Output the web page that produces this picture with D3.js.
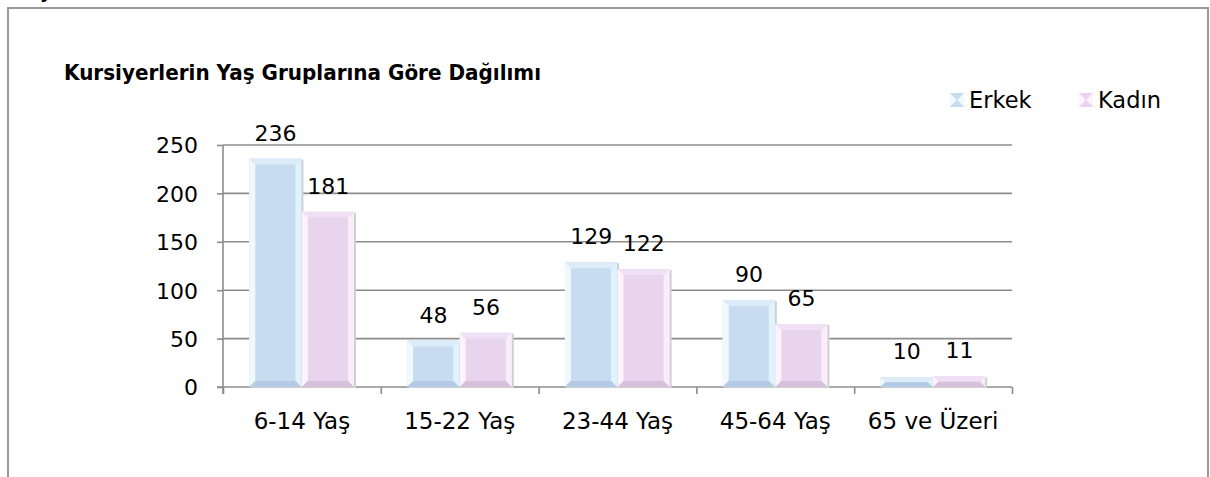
<!DOCTYPE html>
<html>
<head>
<meta charset="utf-8">
<script src="https://cdn.jsdelivr.net/npm/d3@7"></script>
<style>
  body { margin: 0; background: #fff; }
  svg { display: block; }
  text { font-family: "DejaVu Sans", Verdana, sans-serif; fill: #000; }
</style>
</head>
<body>
<div id="chart"></div>
<script>
// chart data
var categories = ["6-14 Yaş", "15-22 Yaş", "23-44 Yaş", "45-64 Yaş", "65 ve Üzeri"];
var erkek = [236, 48, 129, 90, 10];
var kadin = [181, 56, 122, 65, 11];
var seriesNames = ["Erkek", "Kadın"];
var yTicks = [0, 50, 100, 150, 200, 250];
var title = "Kursiyerlerin Yaş Gruplarına Göre Dağılımı";

var W = 1210, H = 477;
var colors = {
  "Erkek": { main: "#c7dcf1", left: "#eefaff", right: "#e0f3fd", top: "#dcecf9", bottom: "#b3cbe5" },
  "Kadın": { main: "#e8d4ed", left: "#fdf3fe", right: "#f9edfc", top: "#efe1f3", bottom: "#d6c0dc" }
};

var svg = d3.select("#chart").append("svg").attr("width", W).attr("height", H);

// outer frame (bottom is cut off in the picture)
svg.append("path")
  .attr("d", "M8," + H + " L8,8 L1208,8 L1208," + H)
  .attr("fill", "none").attr("stroke", "#9a9a9a").attr("stroke-width", 2);

// bit of text from above the frame, only its tail is visible
svg.append("text").attr("x", 40).attr("y", -2)
  .style("font-size", "18px").style("font-weight", "bold").text("y");

// title
var t = svg.append("text").attr("x", 64).attr("y", 80)
  .style("font-size", "21px").style("font-weight", "bold").text(title);
var tl = t.node().getComputedTextLength();
if (tl > 477) t.attr("textLength", 477).attr("lengthAdjust", "spacingAndGlyphs");

var x = d3.scaleBand().domain(categories).range([223, 1012]).paddingInner(0).paddingOuter(0);
var bw = x.bandwidth();
var xs = d3.scaleBand().domain(seriesNames).range([bw / 6, bw * 5 / 6]);
var y = d3.scaleLinear().domain([0, 250]).range([387, 145]);

// gridlines
svg.append("g").selectAll("line").data(yTicks.filter(function(d) { return d > 0; }))
  .enter().append("line")
  .attr("x1", 223).attr("x2", 1012)
  .attr("y1", function(d) { return y(d); }).attr("y2", function(d) { return y(d); })
  .attr("stroke", "#8c8c8c").attr("stroke-width", 1.6);

// y axis
var yAxis = svg.append("g").attr("transform", "translate(223,0)")
  .call(d3.axisLeft(y).tickValues(yTicks).tickSize(6).tickPadding(19));
yAxis.select(".domain").attr("d", "M0,145 L0,394").attr("stroke", "#8c8c8c").attr("stroke-width", 1.6);
yAxis.selectAll(".tick line").attr("stroke", "#8c8c8c").attr("stroke-width", 1.6);
yAxis.selectAll(".tick text").style("font-size", "22px").attr("font-family", null).attr("dy", "0.36em");

// x axis with ticks on the category boundaries
var xb = d3.scaleLinear().domain([0, categories.length]).range([223, 1012]);
var xAxis = svg.append("g").attr("transform", "translate(0,387)")
  .call(d3.axisBottom(xb).ticks(categories.length).tickSize(7).tickFormat(""));
xAxis.select(".domain").attr("d", "M217,0 L1012,0").attr("stroke", "#8c8c8c").attr("stroke-width", 1.6);
xAxis.selectAll(".tick line").attr("stroke", "#8c8c8c").attr("stroke-width", 1.6);

var xLab = svg.append("g").attr("transform", "translate(0,387)")
  .call(d3.axisBottom(x).tickSize(0));
xLab.select(".domain").remove();
xLab.selectAll(".tick text").attr("y", 42).attr("dy", 0)
  .style("font-size", "23px").attr("font-family", null);

// beveled bar, drawn as five polygons
function bevel(g, x0, x1, y0, y1, c, bmax) {
  var b = Math.min(bmax, (y1 - y0) / 2, (x1 - x0) / 2);
  var P = function(pts) { return pts.map(function(p) { return p.join(","); }).join(" "); };
  g.append("rect").attr("x", x0).attr("y", y0).attr("width", x1 - x0).attr("height", y1 - y0).attr("fill", c.main);
  g.append("polygon").attr("points", P([[x0, y0], [x1, y0], [x1 - b, y0 + b], [x0 + b, y0 + b]])).attr("fill", c.top);
  g.append("polygon").attr("points", P([[x0, y0], [x0 + b, y0 + b], [x0 + b, y1 - b], [x0, y1]])).attr("fill", c.left);
  g.append("polygon").attr("points", P([[x1, y0], [x1 - b, y0 + b], [x1 - b, y1 - b], [x1, y1]])).attr("fill", c.right);
  g.append("polygon").attr("points", P([[x0, y1], [x0 + b, y1 - b], [x1 - b, y1 - b], [x1, y1]])).attr("fill", c.bottom);
}

var rows = [];
categories.forEach(function(cat, i) {
  rows.push({ cat: cat, s: "Erkek", v: erkek[i] });
  rows.push({ cat: cat, s: "Kadın", v: kadin[i] });
});

var bars = svg.append("g").selectAll("g").data(rows).enter().append("g");
bars.each(function(d) {
  var g = d3.select(this);
  var x0 = x(d.cat) + xs(d.s), x1 = x0 + xs.bandwidth();
  // soft shadow
  g.append("rect").attr("x", x0 + 1.5).attr("y", y(d.v) + 1).attr("width", xs.bandwidth())
    .attr("height", y(0) - y(d.v)).attr("fill", "#cfcfcf");
  bevel(g, x0, x1 - 0.5, y(d.v), y(0), colors[d.s], 6);
});

// value labels
svg.append("g").selectAll("text").data(rows).enter().append("text")
  .attr("x", function(d) { return x(d.cat) + xs(d.s) + xs.bandwidth() / 2; })
  .attr("y", function(d) { return y(d.v) - 18; })
  .attr("text-anchor", "middle").style("font-size", "22px")
  .text(function(d) { return d.v; });

// legend
var leg = svg.append("g").selectAll("g").data(seriesNames).enter().append("g")
  .attr("transform", function(d, i) { return "translate(" + (950 + i * 129) + ",93)"; });
leg.each(function(d) {
  bevel(d3.select(this), 0, 14, 0, 14, { main: colors[d].main, left: colors[d].left, right: colors[d].left,
    top: colors[d].main, bottom: colors[d].main }, 7);
});
leg.append("text").attr("x", 19).attr("y", 15).style("font-size", "22.5px").text(function(d) { return d; });
</script>
</body>
</html>
